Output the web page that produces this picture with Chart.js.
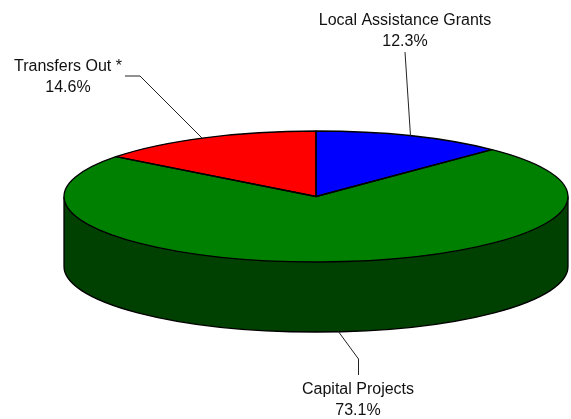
<!DOCTYPE html>
<html>
<head>
<meta charset="utf-8">
<style>html,body{margin:0;padding:0;background:#fff}canvas{display:block}</style>
<script src="https://cdn.jsdelivr.net/npm/chart.js@4/dist/chart.umd.min.js"></script>
</head>
<body>
<div style="position:relative;width:571px;height:419px"><canvas id="c"></canvas></div>
<script>
const categories = ['Local Assistance Grants', 'Capital Projects', 'Transfers Out *'];
const values = [12.3, 73.1, 14.6];
const topColors = ['#0000FF', '#008000', '#FF0000'];
const sideColors = ['#000080', '#004000', '#800000'];

const view = {cx: 316, cy: 196.5, rx: 252, ry: 65.5, depth: 70};
const labels = [
  {x: 405, y: 21, dy: 20.5, line: [[405, 52], [410.5, 136]]},
  {x: 358, y: 390, dy: 20.5, line: [[338, 331], [358.5, 359], [358.5, 375]]},
  {x: 68, y: 67, dy: 20.5, line: [[125, 76], [140, 76], [202, 138]]}
];

const pie3d = {
  id: 'pie3d',
  beforeDatasetsDraw(chart) {
    const ctx = chart.ctx, arcs = chart.getDatasetMeta(0).data;
    const a0 = arcs[0], R = a0.outerRadius;
    const place = (dy) => {
      ctx.translate(view.cx, view.cy + dy);
      ctx.scale(view.rx / R, view.ry / R);
      ctx.translate(-a0.x, -a0.y);
    };
    // side wall: the front-facing slice placed at the base, joined to the top rim
    const front = arcs[1], topFill = front.options.backgroundColor;
    front.options.backgroundColor = sideColors[1];
    ctx.save(); place(view.depth); front.draw(ctx); ctx.restore();
    front.options.backgroundColor = topFill;
    ctx.fillStyle = sideColors[1];
    ctx.beginPath();
    ctx.moveTo(view.cx - view.rx, view.cy);
    ctx.lineTo(view.cx - view.rx, view.cy + view.depth);
    ctx.ellipse(view.cx, view.cy + view.depth, view.rx, view.ry, 0, Math.PI, 0, true);
    ctx.lineTo(view.cx + view.rx, view.cy);
    ctx.ellipse(view.cx, view.cy, view.rx, view.ry, 0, 0, Math.PI, false);
    ctx.closePath();
    ctx.fill();
    ctx.strokeStyle = '#000'; ctx.lineWidth = 1.3;
    ctx.beginPath();
    ctx.moveTo(view.cx - view.rx, view.cy);
    ctx.lineTo(view.cx - view.rx, view.cy + view.depth);
    ctx.ellipse(view.cx, view.cy + view.depth, view.rx, view.ry, 0, Math.PI, 0, true);
    ctx.lineTo(view.cx + view.rx, view.cy);
    ctx.stroke();
    // top face
    arcs.forEach(a => { ctx.save(); place(0); a.draw(ctx); ctx.restore(); });
    ctx.lineJoin = 'round';
    arcs.forEach(a => {
      ctx.beginPath();
      ctx.moveTo(view.cx, view.cy);
      ctx.ellipse(view.cx, view.cy, view.rx, view.ry, 0, a.startAngle, a.endAngle);
      ctx.closePath();
      ctx.stroke();
    });
    // leader lines and labels
    ctx.font = '16px "Liberation Sans", Arial, sans-serif';
    ctx.textAlign = 'center'; ctx.textBaseline = 'middle';
    labels.forEach((l, i) => {
      ctx.strokeStyle = '#222'; ctx.lineWidth = 1;
      ctx.beginPath();
      l.line.forEach((p, k) => k ? ctx.lineTo(p[0], p[1]) : ctx.moveTo(p[0], p[1]));
      ctx.stroke();
      ctx.fillStyle = '#111';
      ctx.fillText(categories[i], l.x, l.y);
      ctx.fillText(values[i].toFixed(1) + '%', l.x, l.y + l.dy);
    });
    return false;
  }
};

new Chart(document.getElementById('c'), {
  type: 'pie',
  data: {labels: categories, datasets: [{data: values, backgroundColor: topColors, borderWidth: 0}]},
  options: {
    responsive: true, maintainAspectRatio: false, animation: false,
    layout: {padding: 0},
    plugins: {legend: {display: false}, tooltip: {enabled: false}, title: {display: false}}
  },
  plugins: [pie3d]
});
</script>
</body>
</html>
